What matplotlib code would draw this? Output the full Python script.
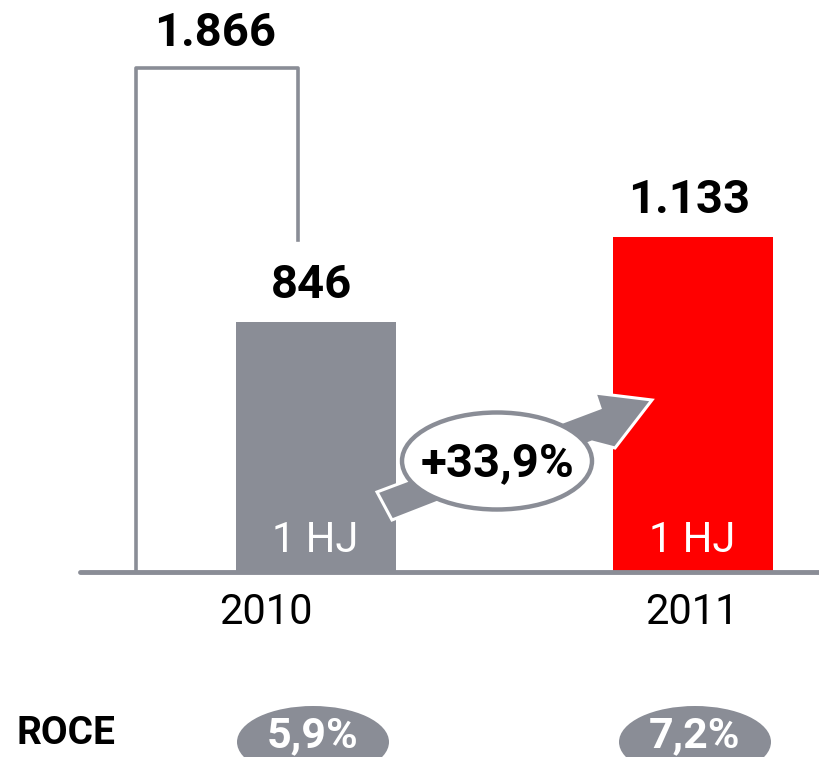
import matplotlib.pyplot as plt
from matplotlib.patches import Ellipse, Polygon

# data
years = ["2010", "2011"]
h1_values = [846, 1133]
h1_labels = ["846", "1.133"]
period_label = "1 HJ"
full_year_2010 = "1.866"
growth_label = "+33,9%"
roce_labels = ["5,9%", "7,2%"]
bar_colors = ["#8a8d96", "#ff0000"]

GRAY = "#8a8d96"
plt.rcParams["font.family"] = ["Roboto", "DejaVu Sans"]

fig = plt.figure(figsize=(8.2, 7.57), dpi=100)

# main axes: x in pixel-like units, y in values (baseline at pixel 572)
ax = fig.add_axes([0, 0, 1, 1])
px_per_unit = 0.2955
ax.set_xlim(0, 820)
ax.set_ylim(-185 / px_per_unit, 572 / px_per_unit)
ax.axis("off")

# overlay axes in image pixel coords for decorations
ov = fig.add_axes([0, 0, 1, 1], zorder=3)
ov.set_xlim(0, 820)
ov.set_ylim(757, 0)
ov.axis("off")
ov.patch.set_alpha(0)

centers = [316, 693]
ax.bar(centers, h1_values, width=160, color=bar_colors, zorder=2)

for x, v, lab in zip(centers, h1_values, h1_labels):
    ax.annotate(lab, (x - 4, v), xytext=(0, 11), textcoords="offset points",
                ha="center", va="bottom", fontsize=34, fontweight="bold", color="black")
    ov.text(x - 1, 541, period_label, ha="center", va="center", fontsize=30,
            fontweight="normal", color="white", zorder=4)

for x, yr in zip([266, 692], years):
    ov.text(x, 613, yr, ha="center", va="center", fontsize=30, color="black")

# baseline
ov.plot([80, 820], [572, 572], color=GRAY, lw=3.5, solid_capstyle="round", zorder=1)

# full year 2010 bracket
ov.plot([136, 136, 298, 298], [572, 68, 68, 240], color=GRAY, lw=2.6,
        solid_joinstyle="round", zorder=1)
ov.text(215, 33, full_year_2010, ha="center", va="center", fontsize=34,
        fontweight="bold", color="black")

# growth arrow
arrow = Polygon([(377, 492), (392, 520), (592, 442), (615, 448), (652, 400),
                 (595, 393), (600, 408)], closed=True, facecolor=GRAY,
                edgecolor="white", lw=2.2, joinstyle="miter", zorder=4)
ov.add_patch(arrow)
ov.add_patch(Ellipse((497, 461), 190, 97, facecolor="white", edgecolor=GRAY,
                     lw=3.2, zorder=5))
ov.text(498, 463, growth_label, ha="center", va="center", fontsize=34,
        fontweight="bold", color="black", zorder=6)

# ROCE row
ov.text(17, 734, "ROCE", ha="left", va="center", fontsize=28,
        fontweight="bold", color="black")
for x, lab in zip([313, 695], roce_labels):
    ov.add_patch(Ellipse((x, 742), 152, 72, facecolor=GRAY, edgecolor="none", zorder=4))
    ov.text(x, 736, lab, ha="center", va="center", fontsize=31,
            fontweight="bold", color="white", zorder=5)

fig.savefig("out.png", dpi=100)
